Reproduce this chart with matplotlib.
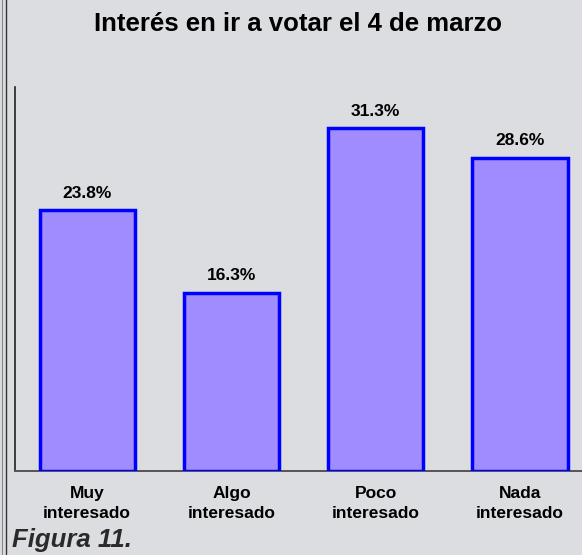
import matplotlib
matplotlib.use("Agg")
import matplotlib.pyplot as plt
from matplotlib.lines import Line2D

categories = ["Muy\ninteresado", "Algo\ninteresado", "Poco\ninteresado", "Nada\ninteresado"]
values = [23.8, 16.3, 31.3, 28.6]
labels = ["23.8%", "16.3%", "31.3%", "28.6%"]

plt.rcParams['font.family'] = ['Liberation Sans', 'DejaVu Sans']

bg = '#DCDDE0'
W, H = 582, 555
fig = plt.figure(figsize=(W/100, H/100), dpi=100, facecolor=bg)
ax = fig.add_axes([15/W, (H-471)/H, (W-15)/W, 384/H])
ax.set_facecolor(bg)

x = list(range(len(values)))
ax.bar(x, values, width=0.66, color='#A08CFF', edgecolor='#0000FF', linewidth=2.5, zorder=3)
for xi, v, lab in zip(x, values, labels):
    ax.annotate(lab, (xi, v), xytext=(0, 7), textcoords='offset points',
                ha='center', va='bottom', fontsize=12.5, fontweight='bold')

ax.set_xlim(-0.5, 3.43)
ax.set_ylim(0, 35.07)
ax.set_yticks([])
ax.set_xticks(x)
ax.set_xticklabels(categories, fontsize=12.5, fontweight='bold', linespacing=1.4)
ax.tick_params(axis='x', length=0, pad=11)
for s in ['top', 'right']:
    ax.spines[s].set_visible(False)
ax.spines['left'].set_color('#222222')
ax.spines['bottom'].set_color('#555555')
ax.spines['left'].set_linewidth(1.2)
ax.spines['bottom'].set_linewidth(1.4)

fig.text(298/W, 1 - 31/H, "Interés en ir a votar el 4 de marzo", ha='center', va='baseline',
         fontsize=18.5, fontweight='bold')
fig.text(12/W, 1 - 547/H, "Figura 11.", ha='left', va='baseline', fontsize=18.5,
         fontweight='bold', fontstyle='italic', color='#2a2a2a')

fig.add_artist(Line2D([1.5/W, 1.5/W], [0, 1], transform=fig.transFigure, color='#888888', lw=0.8))
fig.add_artist(Line2D([6/W, 6/W], [0, 1], transform=fig.transFigure, color='#333333', lw=1.0))

fig.savefig('out.png', dpi=100, facecolor=bg)
